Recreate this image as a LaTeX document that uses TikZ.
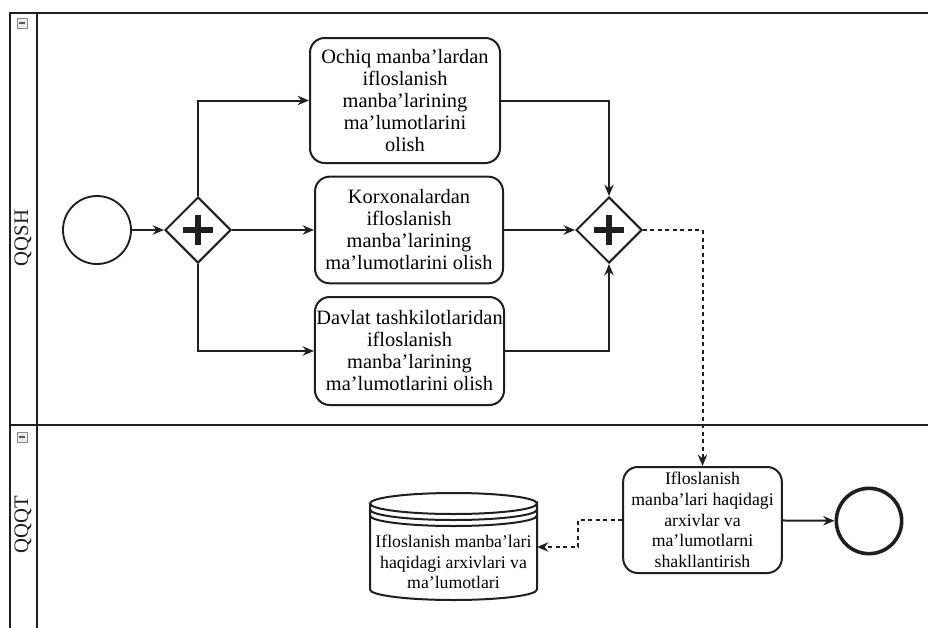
\documentclass[tikz,border=0pt]{standalone}
\usepackage{fontspec}
\setmainfont{Liberation Serif}
\usetikzlibrary{arrows.meta,shapes.geometric}
\colorlet{Ink}{black!88}
\colorlet{IconGrey}{black!45}

\begin{document}
\begin{tikzpicture}[x=0.75pt,y=-0.75pt,
    lane/.style={draw=Ink,line width=1.4pt},
    lanelabel/.style={rotate=90,font=\fontsize{15.5}{17}\selectfont,text=Ink},
    taskbox/.style={draw=Ink,line width=1.5pt,rounded corners=11pt,align=center,inner sep=1pt,font=\fontsize{15.3}{16.5}\selectfont},
    archbox/.style={taskbox,font=\fontsize{13.3}{15.5}\selectfont},
    startev/.style={circle,draw=Ink,line width=1.4pt,minimum size=51pt,inner sep=0pt},
    endev/.style={circle,draw=Ink,line width=2.7pt,minimum size=49pt,inner sep=0pt},
    gate/.style={diamond,draw=Ink,line width=1.5pt,minimum width=49.5pt,minimum height=49.5pt,inner sep=0pt,aspect=1},
    flow/.style={-{Stealth[length=8.5pt,width=7pt]},line width=1.5pt,Ink},
    msg/.style={-{Stealth[length=8.5pt,width=7pt]},line width=1.5pt,Ink,dash pattern=on 3pt off 2.6pt}
  ]
    \useasboundingbox (0,0) rectangle (928,628);
    % pool and lanes
    \draw[lane] (928,13) -- (10,13) -- (10,628);
    \draw[lane] (37,13) -- (37,628);
    \draw[lane] (10,425) -- (928,425);
    \foreach \y in {23,437} {
      \draw[IconGrey,fill=black!8,line width=0.5pt] (17,\y-5) rectangle (27,\y+5);
      \draw[black!65,line width=1.2pt] (19,\y) -- (25,\y);
    }
    \node[lanelabel] (qqsh) at (23,238) {QQSH};
    \node[lanelabel] (qqqt) at (23,525) {QQQT};

    % lane QQSH
    \node[startev] (start) at (97,230) {};
    \node[gate] (g1) at (198,230) {};
    \node[gate] (g2) at (609,230) {};
    \foreach \g in {g1,g2} {
      \draw[Ink,line width=4.5pt] ([xshift=-11pt]\g.center) -- ([xshift=11pt]\g.center);
      \draw[Ink,line width=4.5pt] ([yshift=-11pt]\g.center) -- ([yshift=11pt]\g.center);
    }
    \node[taskbox,minimum width=142.5pt,minimum height=93.75pt] (t1) at (405,100.5) {Ochiq manba’lardan\\ifloslanish\\manba’larining\\ma’lumotlarini\\olish};
    \node[taskbox,minimum width=141pt,minimum height=80pt] (t2) at (409,230) {Korxonalardan\\ifloslanish\\manba’larining\\ma’lumotlarini olish};
    \node[taskbox,minimum width=139pt,minimum height=81pt] (t3) at (409.5,351) {Davlat tashkilotlaridan\\ifloslanish\\manba’larining\\ma’lumotlarini olish};

    % lane QQQT
    \node[archbox,minimum width=119pt,minimum height=79.5pt] (t4) at (702.5,520) {Ifloslanish\\manba’lari haqidagi\\arxivlar va\\ma’lumotlarni\\shakllantirish};
    \node[endev] (end) at (869,521) {};
    % data store
    \draw[Ink,line width=1.5pt,fill=white] (370,503.5) -- (370,589.5) arc[start angle=180,end angle=0,x radius=83.5,y radius=10.5] -- (537,503.5) arc[start angle=0,end angle=360,x radius=83.5,y radius=10.5];
    \draw[Ink,line width=1.5pt] (370,509.5) arc[start angle=180,end angle=0,x radius=83.5,y radius=10.5];
    \draw[Ink,line width=1.5pt] (370,515.5) arc[start angle=180,end angle=0,x radius=83.5,y radius=10.5];
    \node[font=\fontsize{13.3}{15.5}\selectfont,align=center,inner sep=0pt] (dbtext) at (453.5,562) {Ifloslanish manba’lari\\haqidagi arxivlari va\\ma’lumotlari};
    \coordinate (db) at (537,547);

    % connectors
    \draw[flow] (start) -- (g1);
    \draw[flow] (g1.north) |- (t1);
    \draw[flow] (g1) -- (t2);
    \draw[flow] (g1.south) |- (t3);
    \draw[flow] (t1) -| (g2.north);
    \draw[flow] (t2) -- (g2);
    \draw[flow] (t3) -| (g2.south);
    \draw[msg] (g2.east) -| (t4.north);
    \draw[msg] (t4.west) -- ++(-44,0) |- (db);
    \draw[flow] (t4) -- (end);
  \end{tikzpicture}
\end{document}
